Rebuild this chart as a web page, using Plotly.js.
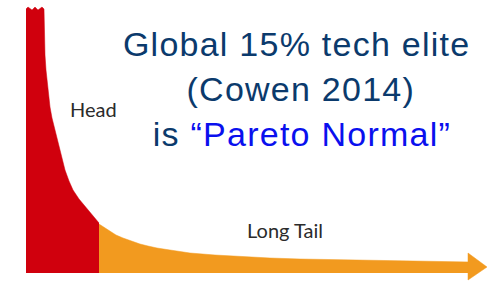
<!DOCTYPE html>
<html>
<head>
<meta charset="utf-8">
<script src="https://cdn.plot.ly/plotly-3.0.1.min.js"></script>
<style>
html,body{margin:0;padding:0;background:#fff;}
#chart{width:487px;height:282px;}
.title-line .annotation-text{letter-spacing:1.25px;}
</style>
</head>
<body>
<div id="chart"></div>
<script>
// Head of the distribution (rank position, popularity height)
var headX = [26, 28, 32, 35, 38, 42, 44, 44.3, 45, 46, 47, 48, 49, 50, 52, 54, 56, 58, 60, 62, 65, 69, 73, 79, 85, 91, 97, 99];
var headY = [264, 266, 263, 266, 263, 266, 264, 240, 218, 203, 192, 182, 173, 166, 155, 146, 139, 131, 123, 114, 103, 92, 83, 74, 67, 60, 53, 50];
// Long tail
var tailX = [99, 105, 110, 116, 123, 131, 140, 148, 157, 170, 190, 215, 240, 270, 300, 350, 400, 470];
var tailY = [49, 45, 42, 38, 35, 32, 29, 27, 25, 23, 20, 18, 16.5, 15, 14, 13, 12, 11];
// Arrow head at end of tail
var arrowX = [468, 487, 468, 468];
var arrowY = [20, 6, -7, 20];

var labelHead = "Head";
var labelTail = "Long Tail";
var titleLines = ["Global 15% tech elite", "(Cowen 2014)", "is <span style='color:#0a10ee'>\u201cPareto Normal\u201d</span>"];

var red = "#d0000d", orange = "#f29a1f";

var traces = [
  {x: headX, y: headY, type: "scatter", mode: "lines", fill: "tozeroy",
   line: {color: red, width: 0.5}, fillcolor: red, hoverinfo: "skip"},
  {x: tailX, y: tailY, type: "scatter", mode: "lines", fill: "tozeroy",
   line: {color: orange, width: 0.5}, fillcolor: orange, hoverinfo: "skip"},
  {x: arrowX, y: arrowY, type: "scatter", mode: "lines", fill: "toself",
   line: {color: orange, width: 0.5}, fillcolor: orange, hoverinfo: "skip"}
];

var titleCenters = [[296.5, 229], [300.5, 184], [302, 139]];
var annotations = titleLines.map(function(t, i){
  return {text: t, x: titleCenters[i][0], y: titleCenters[i][1], xref: "x", yref: "y",
    showarrow: false, xanchor: "center", yanchor: "middle",
    font: {family: "Liberation Sans, Arial, sans-serif", size: 34, color: "#0b3a6c"}};
});
annotations.push({text: labelHead, x: 93.5, y: 164, xref: "x", yref: "y", showarrow: false,
  font: {family: "Lato, Open Sans, sans-serif", size: 20, color: "#2b2b2b"}});
annotations.push({text: labelTail, x: 285, y: 43, xref: "x", yref: "y", showarrow: false,
  font: {family: "Lato, Open Sans, sans-serif", size: 20, color: "#2b2b2b"}});

var layout = {
  width: 487, height: 282,
  margin: {l: 0, r: 0, t: 0, b: 0},
  paper_bgcolor: "#ffffff", plot_bgcolor: "#ffffff",
  showlegend: false,
  xaxis: {range: [0, 487], visible: false, fixedrange: true},
  yaxis: {range: [-9, 273], visible: false, fixedrange: true},
  annotations: annotations
};

Plotly.newPlot("chart", traces, layout, {staticPlot: true, displayModeBar: false}).then(function(){
  var nodes = document.querySelectorAll(".annotation");
  for (var i = 0; i < 3 && i < nodes.length; i++) nodes[i].classList.add("title-line");
});
</script>
</body>
</html>
